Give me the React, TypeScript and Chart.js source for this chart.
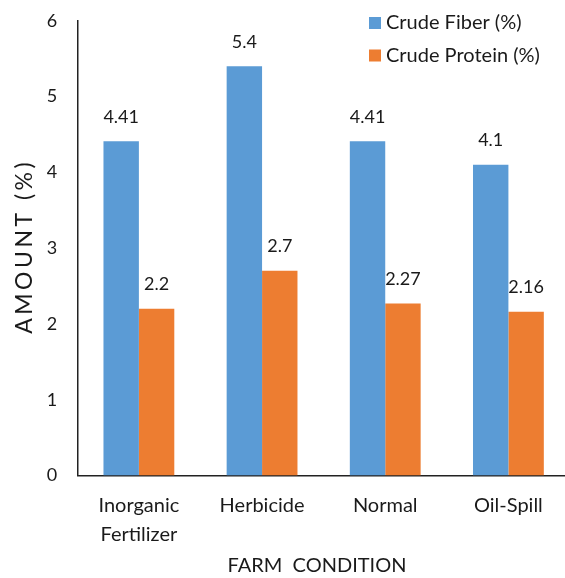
import React, { useEffect, useRef } from "react";
import { Chart, registerables } from "chart.js";

Chart.register(...registerables);

const categories: (string | string[])[] = [["Inorganic", "Fertilizer"], "Herbicide", "Normal", "Oil-Spill"];
const fiberValues = [4.41, 5.4, 4.41, 4.1];
const proteinValues = [2.2, 2.7, 2.27, 2.16];
const seriesNames = ["Crude Fiber (%)", "Crude Protein (%)"];
const seriesColors = ["#5B9BD5", "#ED7D31"];
const yTitle = "AMOUNT (%)";
const xTitle = "FARM  CONDITION";

const FONT = "Lato, 'Liberation Sans', sans-serif";
const TEXT = "#1a1a1a";

const overlayPlugin = {
  id: "overlay",
  afterDatasetsDraw(chart: any) {
    const ctx = chart.ctx;
    ctx.save();
    ctx.fillStyle = TEXT;
    ctx.font = `18px ${FONT}`;
    ctx.textAlign = "center";
    ctx.textBaseline = "alphabetic";
    chart.data.datasets.forEach((ds: any, i: number) => {
      const meta = chart.getDatasetMeta(i);
      meta.data.forEach((bar: any, j: number) => {
        ctx.fillText(String(ds.data[j]), bar.x, bar.y - 18.5);
      });
    });
    // legend
    ctx.font = `20px ${FONT}`;
    chart.data.datasets.forEach((ds: any, i: number) => {
      const y = 17 + i * 32.5;
      ctx.fillStyle = ds.backgroundColor;
      ctx.fillRect(369, y, 12, 12);
      ctx.fillStyle = TEXT;
      ctx.textAlign = "left";
      ctx.textBaseline = "middle";
      ctx.fillText(ds.label, 386, y + 6);
    });
    // x title
    ctx.textAlign = "center";
    ctx.textBaseline = "middle";
    ctx.font = `20px ${FONT}`;
    ctx.fillText(xTitle, 317, 566);
    // y title
    const area = chart.chartArea;
    ctx.save();
    ctx.font = `23px ${FONT}`;
    try {
      (ctx as any).letterSpacing = "3.5px";
    } catch (e) {}
    const w = ctx.measureText(yTitle).width - 3.5;
    ctx.translate(24.5, (area.top + area.bottom) / 2);
    ctx.rotate(-Math.PI / 2);
    ctx.textAlign = "left";
    ctx.fillText(yTitle, -w / 2, 0);
    ctx.restore();
    ctx.restore();
  },
};

export default function App() {
  const ref = useRef<HTMLCanvasElement>(null);
  useEffect(() => {
    if (!ref.current) return;
    const chart = new Chart(ref.current, {
      type: "bar",
      data: {
        labels: categories as any,
        datasets: [
          { label: seriesNames[0], data: fiberValues, backgroundColor: seriesColors[0] },
          { label: seriesNames[1], data: proteinValues, backgroundColor: seriesColors[1] },
        ],
      },
      options: {
        responsive: false,
        animation: false,
        devicePixelRatio: 1,
        layout: { padding: { top: 20.7, left: 0, right: 0, bottom: 0 } },
        datasets: { bar: { categoryPercentage: 0.575, barPercentage: 1 } } as any,
        plugins: { legend: { display: false }, tooltip: { enabled: false } },
        scales: {
          x: {
            grid: { display: false, drawTicks: false },
            border: { display: true, color: "#222", width: 1.5 },
            ticks: {
              color: TEXT,
              font: { family: FONT, size: 20, lineHeight: 1.45 },
              padding: 16,
              maxRotation: 0,
              autoSkip: false,
            },
            afterFit: (s: any) => {
              s.height = 102.5;
              s.paddingLeft = 0;
              s.paddingRight = 0;
            },
          },
          y: {
            min: 0,
            max: 6,
            grid: { display: false, drawTicks: false },
            border: { display: true, color: "#222", width: 1.5 },
            ticks: {
              stepSize: 1,
              color: TEXT,
              font: { family: FONT, size: 18 },
              padding: 20,
            },
            afterFit: (s: any) => {
              s.width = 77.3;
              s.paddingTop = 0;
              s.paddingBottom = 0;
            },
          },
        },
      },
      plugins: [overlayPlugin],
    });
    return () => chart.destroy();
  }, []);
  return (
    <div style={{ position: "fixed", left: 0, top: 0, width: 565, height: 578, overflow: "hidden", background: "#fff" }}>
      <canvas ref={ref} width={570} height={578} style={{ width: 570, height: 578, display: "block" }} />
    </div>
  );
}
